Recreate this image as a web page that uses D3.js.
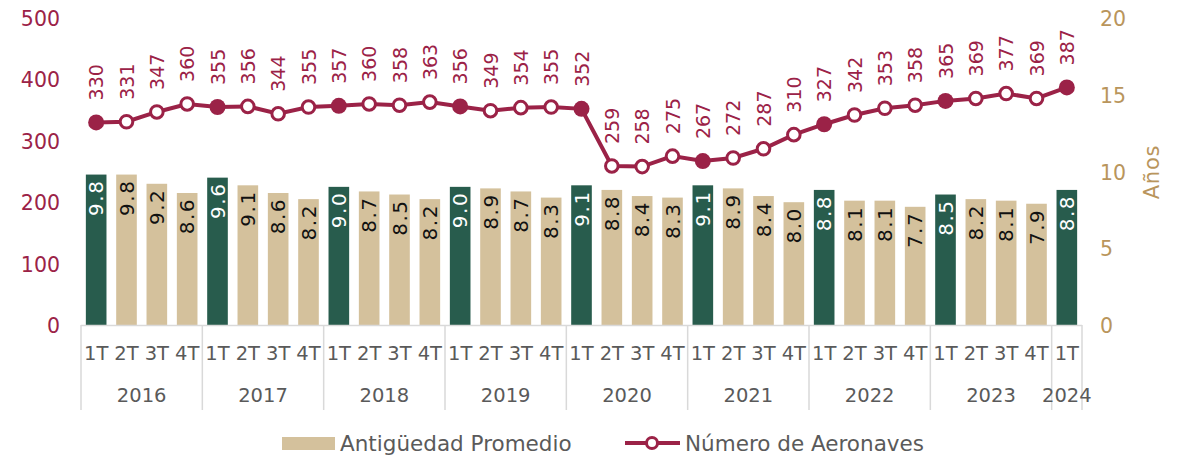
<!DOCTYPE html>
<html><head><meta charset="utf-8">
<script src="https://cdn.jsdelivr.net/npm/d3@7"></script>
<style>body{margin:0;background:#fff}svg{display:block}text{font-family:"DejaVu Sans",sans-serif}</style>
</head><body>
<svg id="c" width="1179" height="456"></svg>
<script>
const years = ["2016","2017","2018","2019","2020","2021","2022","2023","2024"];
const quarters = ["1T","2T","3T","4T"];
const aeronaves = [330,331,347,360, 355,356,344,355, 357,360,358,363, 356,349,354,355, 352,259,258,275, 267,272,287,310, 327,342,353,358, 365,369,377,369, 387];
const antiguedad = [9.8,9.8,9.2,8.6, 9.6,9.1,8.6,8.2, 9.0,8.7,8.5,8.2, 9.0,8.9,8.7,8.3, 9.1,8.8,8.4,8.3, 9.1,8.9,8.4,8.0, 8.8,8.1,8.1,7.7, 8.5,8.2,8.1,7.9, 8.8];
const leftTicks = [0,100,200,300,400,500];
const rightTicks = [0,5,10,15,20];

const MAROON="#9b2247", TAN="#d4c19c", GREEN="#285c4d", GOLD="#b9955c", GRAY="#5a5a5a", GRID="#d9d9d9";
const data = aeronaves.map((v,i)=>({i, year: years[Math.floor(i/4)], q: quarters[i%4], n:v, a:antiguedad[i]}));

const svg = d3.select("#c");
const x = d3.scaleBand().domain(data.map(d=>d.i)).range([81,1082]).paddingInner(0.32).paddingOuter(0.16);
const yL = d3.scaleLinear().domain([0,500]).range([325,18]);
const yR = d3.scaleLinear().domain([0,20]).range([325,18]);
const cx = i => x(i)+x.bandwidth()/2;

// left axis
const la = svg.append("g").attr("transform","translate(60,1)").call(d3.axisLeft(yL).tickValues(leftTicks).tickSize(0).tickPadding(0));
la.select(".domain").remove();
la.selectAll("text").attr("fill",MAROON).style("font-size","20.5px").style("font-family","DejaVu Sans");
// right axis
const ra = svg.append("g").attr("transform","translate(1100,1)").call(d3.axisRight(yR).tickValues(rightTicks).tickSize(0).tickPadding(0));
ra.select(".domain").remove();
ra.selectAll("text").attr("fill",GOLD).style("font-size","20.5px").style("font-family","DejaVu Sans");
svg.append("text").attr("transform","translate(1152,172) rotate(-90)").attr("text-anchor","middle").attr("dominant-baseline","central")
  .attr("fill",GOLD).style("font-size","21px").style("letter-spacing","0.8px").text("Años");

// bars
svg.append("g").selectAll("rect").data(data).join("rect")
  .attr("x",d=>x(d.i)).attr("width",x.bandwidth())
  .attr("y",d=>yR(d.a)).attr("height",d=>yR(0)-yR(d.a))
  .attr("fill",d=>d.q==="1T"?GREEN:TAN);
svg.append("g").selectAll("text").data(data).join("text")
  .attr("transform",d=>`translate(${cx(d.i)},${yR(d.a)+5}) rotate(-90)`)
  .attr("text-anchor","end").attr("dominant-baseline","central")
  .attr("fill",d=>d.q==="1T"?"#fff":"#111").style("font-size","20px").style("letter-spacing","1.5px")
  .text(d=>d.a.toFixed(1));

// x axis
svg.append("line").attr("x1",81).attr("x2",1082).attr("y1",325.5).attr("y2",325.5).attr("stroke",GRID).attr("stroke-width",1.5);
const bounds = years.map((y,k)=>{
  const idx = data.filter(d=>d.year===y).map(d=>d.i);
  const first = idx[0], last = idx[idx.length-1];
  const left = first===0 ? 81 : (x(first) - (x.step()-x.bandwidth())/2);
  const right = last===data.length-1 ? 1082 : (x(last)+x.bandwidth()+(x.step()-x.bandwidth())/2);
  return {y,left,right};
});
const divs = [bounds[0].left].concat(bounds.map(b=>b.right));
svg.append("g").selectAll("line").data(divs).join("line")
  .attr("x1",d=>d).attr("x2",d=>d).attr("y1",325).attr("y2",410).attr("stroke",GRID).attr("stroke-width",1.5);
svg.append("g").selectAll("text").data(data).join("text")
  .attr("x",d=>cx(d.i)).attr("y",353).attr("text-anchor","middle").attr("dominant-baseline","central")
  .attr("fill",GRAY).style("font-size","19.5px").text(d=>d.q);
svg.append("g").selectAll("text").data(bounds).join("text")
  .attr("x",d=>(d.left+d.right)/2).attr("y",395).attr("text-anchor","middle").attr("dominant-baseline","central")
  .attr("fill",GRAY).style("font-size","19.5px").text(d=>d.y);

// line
svg.append("path").datum(data).attr("fill","none").attr("stroke",MAROON).attr("stroke-width",4)
  .attr("d",d3.line().x(d=>cx(d.i)).y(d=>yL(d.n)));
svg.append("g").selectAll("circle").data(data).join("circle")
  .attr("cx",d=>cx(d.i)).attr("cy",d=>yL(d.n)).attr("r",d=>d.q==="1T"?8:6.3)
  .attr("fill",d=>d.q==="1T"?MAROON:"#fff").attr("stroke",MAROON).attr("stroke-width",d=>d.q==="1T"?0:3);
svg.append("g").selectAll("text").data(data).join("text")
  .attr("transform",d=>`translate(${cx(d.i)},${yL(d.n)-22}) rotate(-90)`)
  .attr("text-anchor","start").attr("dominant-baseline","central")
  .attr("fill",MAROON).style("font-size","19px").text(d=>d.n);

// legend
const lg = svg.append("g");
lg.append("rect").attr("x",282).attr("y",437).attr("width",53).attr("height",13).attr("fill",TAN);
lg.append("text").attr("x",340).attr("y",443).attr("dominant-baseline","central").attr("fill",GRAY).style("font-size","21.5px").text("Antigüedad Promedio");
lg.append("line").attr("x1",625).attr("x2",680).attr("y1",443).attr("y2",443).attr("stroke",MAROON).attr("stroke-width",4);
lg.append("circle").attr("cx",652).attr("cy",443).attr("r",5.5).attr("fill","#fff").attr("stroke",MAROON).attr("stroke-width",3);
lg.append("text").attr("x",685).attr("y",443).attr("dominant-baseline","central").attr("fill",GRAY).style("font-size","21.5px").text("Número de Aeronaves");
</script>
</body></html>
